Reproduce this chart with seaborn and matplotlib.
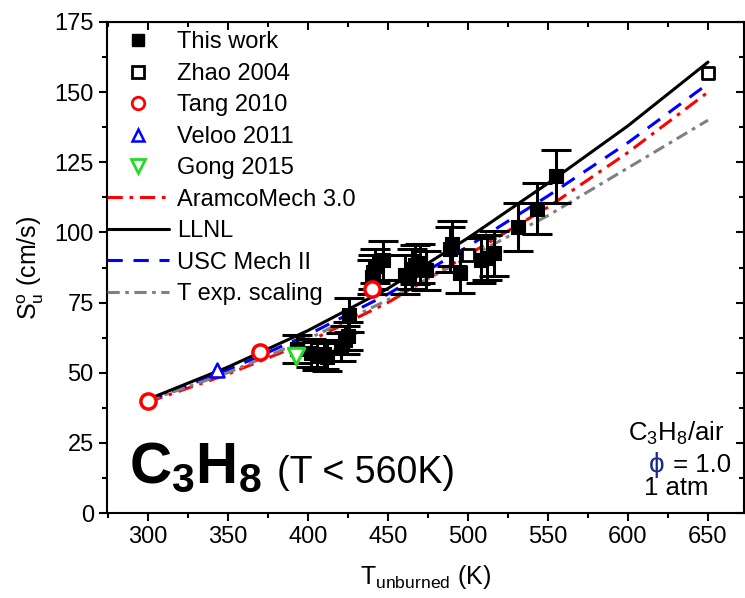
import numpy as np
import pandas as pd
import matplotlib
matplotlib.use('Agg')
import matplotlib.pyplot as plt
import seaborn as sns
from matplotlib.lines import Line2D
from matplotlib.ticker import MultipleLocator

# model predictions, laminar flame speed (cm/s) vs unburned temperature (K)
T_MODEL = [300, 350, 400, 450, 500, 550, 600, 650]
LLNL = [40.5, 52, 65, 80, 98, 117.5, 138, 160.7]
USC = [40, 51, 63.5, 78, 95, 113, 132, 153]
ARAMCO = [39.5, 49.5, 61, 75, 92, 109, 128.5, 150]
T_EXP = [40, 50, 62, 76, 91, 106, 123, 140]

# this work (with error bars)
T_WORK = [393, 402, 406, 410, 412, 421, 423, 425, 426, 440, 441, 442, 447,
          461, 465, 467, 470, 474, 489, 490, 495, 508, 512, 516, 531, 543, 555]
S_WORK = [58.5, 57, 56, 56.5, 55.5, 59, 61.5, 63, 70.5, 84, 86, 88, 90,
          85, 87, 88.5, 89, 86.5, 94, 96, 85.5, 90, 91, 92.5, 102, 108.5, 120]
ERR_WORK = [5, 5, 5, 5, 5, 5, 5, 5, 6, 6, 6, 6, 7,
            7, 7, 7, 7, 7, 8, 8, 7, 8, 8, 8, 8.5, 9, 9.5]

# literature data
ZHAO_T = [500, 650]
ZHAO_S = [92, 157]
TANG_T = [300, 370, 440]
TANG_S = [40, 57.5, 80]
VELOO_T = [343]
VELOO_S = [51]
GONG_T = [392.5]
GONG_S = [56]

sns.set_style('ticks')
plt.rcParams['font.family'] = ['Liberation Sans', 'DejaVu Sans']
plt.rcParams['mathtext.fontset'] = 'custom'
plt.rcParams['mathtext.rm'] = 'Liberation Sans'
plt.rcParams['mathtext.it'] = 'Liberation Sans:italic'
plt.rcParams['mathtext.bf'] = 'Liberation Sans:bold'
for k in ['text.color', 'axes.labelcolor', 'xtick.color', 'ytick.color',
          'axes.edgecolor']:
    plt.rcParams[k] = 'black'

fig = plt.figure(figsize=(7.45, 5.98), dpi=100)
ax = fig.add_axes([107 / 745, 85 / 598, 637 / 745, 491 / 598])

LW = 2.2
ARAMCO_LS = (0, (5, 2.2, 1.2, 2.2))
USC_LS = (0, (5, 3.5))
TEXP_LS = (0, (4, 1.8, 1.2, 1.8))
sns.lineplot(x=T_MODEL, y=ARAMCO, ax=ax, color='red', lw=LW, linestyle=ARAMCO_LS)
sns.lineplot(x=T_MODEL, y=USC, ax=ax, color='blue', lw=LW, linestyle=USC_LS)
sns.lineplot(x=T_MODEL, y=T_EXP, ax=ax, color='gray', lw=LW, linestyle=TEXP_LS)
sns.lineplot(x=T_MODEL, y=LLNL, ax=ax, color='black', lw=LW)

ax.errorbar(T_WORK, S_WORK, yerr=ERR_WORK, fmt='none', ecolor='black',
            elinewidth=2.2, capsize=11, capthick=2.2, zorder=3)
sns.scatterplot(x=T_WORK, y=S_WORK, ax=ax, marker='s', s=100, color='black',
                edgecolor='black', zorder=4)
sns.scatterplot(x=ZHAO_T, y=ZHAO_S, ax=ax, marker='s', s=80, facecolor='white',
                edgecolor='black', linewidth=2, zorder=4)
sns.scatterplot(x=TANG_T, y=TANG_S, ax=ax, marker='o', s=120, facecolor='white',
                edgecolor='red', linewidth=2.5, zorder=5)
sns.scatterplot(x=VELOO_T, y=VELOO_S, ax=ax, marker='^', s=100, facecolor='white',
                edgecolor='blue', linewidth=1.8, zorder=5)
sns.scatterplot(x=GONG_T, y=GONG_S, ax=ax, marker='v', s=140, facecolor='white',
                edgecolor='#22dd22', linewidth=2.2, zorder=5)

ax.set_xlim(274.5, 672.5)
ax.set_ylim(0, 175)
ax.xaxis.set_major_locator(MultipleLocator(50))
ax.xaxis.set_minor_locator(MultipleLocator(25))
ax.yaxis.set_major_locator(MultipleLocator(25))
ax.yaxis.set_minor_locator(MultipleLocator(12.5))
ax.tick_params(which='major', direction='out', length=6, width=1.5,
               labelsize=17, colors='black')
ax.tick_params(which='minor', direction='out', length=3.5, width=1.5)
for s in ax.spines.values():
    s.set_visible(True)
    s.set_linewidth(1.5)
    s.set_color('black')

top = ax.secondary_xaxis('top')
top.xaxis.set_major_locator(MultipleLocator(50))
top.xaxis.set_minor_locator(MultipleLocator(25))
top.tick_params(which='major', direction='in', length=6, width=1.5, labeltop=False)
top.tick_params(which='minor', direction='in', length=3.5, width=1.5)
right = ax.secondary_yaxis('right')
right.yaxis.set_major_locator(MultipleLocator(25))
right.yaxis.set_minor_locator(MultipleLocator(12.5))
right.tick_params(which='major', direction='in', length=6, width=1.5, labelright=False)
right.tick_params(which='minor', direction='in', length=3.5, width=1.5)

ax.set_xlabel(r'T$_{\mathregular{unburned}}$ (K)', fontsize=18, labelpad=11)
ax.set_ylabel(r'$\mathregular{S_u^o}$ (cm/s)', fontsize=18, labelpad=6)

handles = [
    Line2D([], [], ls='none', marker='s', ms=9, color='black', label='This work'),
    Line2D([], [], ls='none', marker='s', ms=8, mfc='white', mec='black', mew=2,
           label='Zhao 2004'),
    Line2D([], [], ls='none', marker='o', ms=9, mfc='white', mec='red', mew=2,
           label='Tang 2010'),
    Line2D([], [], ls='none', marker='^', ms=9, mfc='white', mec='blue', mew=1.8,
           label='Veloo 2011'),
    Line2D([], [], ls='none', marker='v', ms=10, mfc='white', mec='#22dd22', mew=2,
           label='Gong 2015'),
    Line2D([], [], color='red', lw=LW, ls=ARAMCO_LS, label='AramcoMech 3.0'),
    Line2D([], [], color='black', lw=LW, label='LLNL'),
    Line2D([], [], color='blue', lw=LW, ls=USC_LS, label='USC Mech II'),
    Line2D([], [], color='gray', lw=LW, ls=TEXP_LS, label='T exp. scaling'),
]
ax.legend(handles=handles, loc='upper left', bbox_to_anchor=(-0.0146, 1.0),
          frameon=False, fontsize=17, handlelength=2.6, handletextpad=0.35,
          labelspacing=0.4, borderaxespad=0.0)

ax.text(288.5, 10.7, r'$\mathbf{C_3H_8}$', fontsize=42, ha='left', va='baseline')
ax.text(380.5, 10.7, '(T < 560K)', fontsize=27, ha='left', va='baseline')
ax.text(630, 28.5, r'$\mathregular{C_3H_8}$/air', fontsize=18.5, ha='center',
        va='center')
ax.text(623, 17.1, '\u03d5', fontsize=20, ha='right', va='center',
        color='#1a2a8a')
ax.text(624, 17.1, ' = 1.0', fontsize=18.5, ha='left', va='center')
ax.text(630, 6.4, '1 atm', fontsize=18.5, ha='center', va='baseline')

fig.savefig('out.png', dpi=100)
